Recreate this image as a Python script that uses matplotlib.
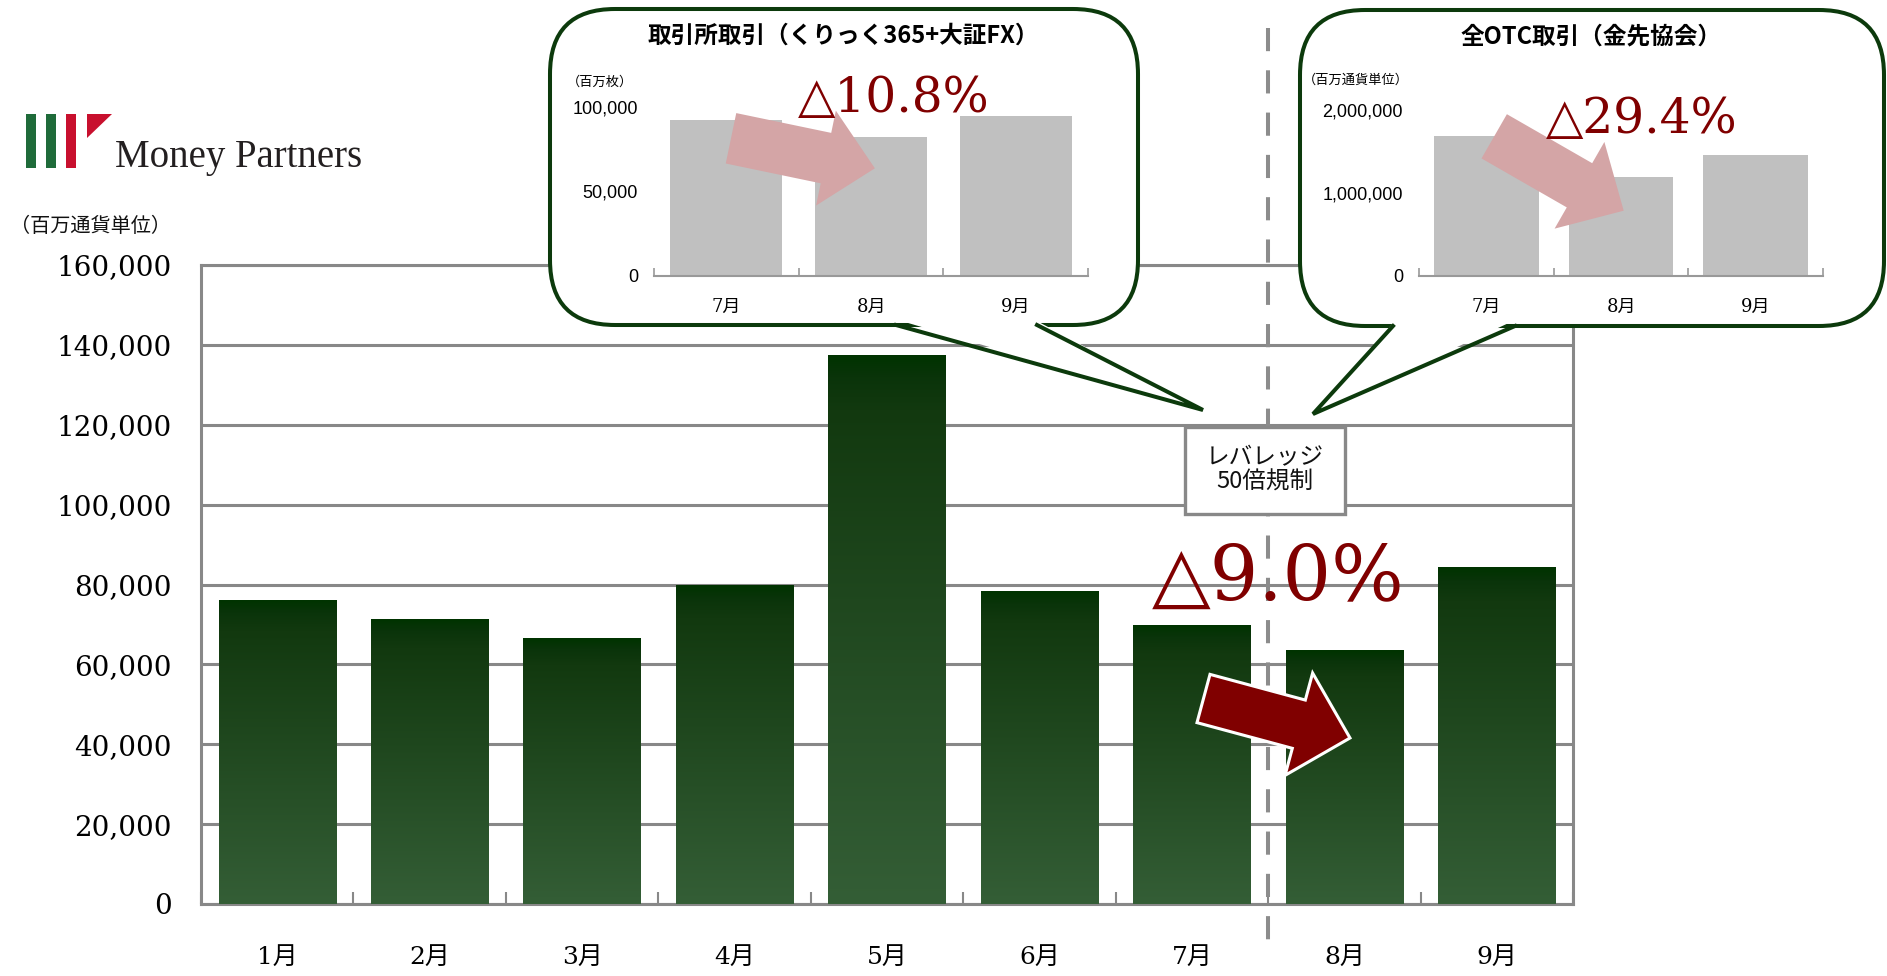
import numpy as np
import matplotlib
matplotlib.use("Agg")
import matplotlib.pyplot as plt
from matplotlib import transforms
from matplotlib.colors import LinearSegmentedColormap
from matplotlib.lines import Line2D
from matplotlib.patches import FancyBboxPatch, Polygon, Rectangle, FancyArrow

plt.rcParams["font.family"] = ["Noto Sans CJK JP", "DejaVu Sans"]

# monthly FX volume (millions of currency units)
months = ["1月", "2月", "3月", "4月", "5月", "6月", "7月", "8月", "9月"]
volume = [76000, 71250, 66500, 79750, 137500, 78250, 69800, 63500, 84300]
main_ticks = list(range(0, 160001, 20000))

# exchange-traded: click365 + Osaka FX (millions of lots)
exch_months = ["7月", "8月", "9月"]
exch_volume = [92300, 82300, 94700]
exch_ticks = [0, 50000, 100000]

# all OTC trading, financial futures association (millions of currency units)
otc_months = ["7月", "8月", "9月"]
otc_volume = [1685000, 1190000, 1458000]
otc_ticks = [0, 1000000, 2000000]

W, H = 1887, 976
SERIF_JP = ["DejaVu Serif", "Noto Sans CJK JP"]
GRID = "#888888"
CALLOUT = "#0c3a0c"
MAROON = "#800000"
PINK = "#d4a5a6"


def px_rect(x0, y0, x1, y1):
    # axes rectangle from pixel edges (origin top-left)
    return [x0 / W, 1 - y1 / H, (x1 - x0) / W, (y1 - y0) / H]


def overlay(z):
    o = fig.add_axes([0, 0, 1, 1], zorder=z)
    o.set_xlim(0, W)
    o.set_ylim(H, 0)
    o.axis("off")
    return o


fig = plt.figure(figsize=(W / 100, H / 100), dpi=100)

# --- main chart ---
ax = fig.add_axes(px_rect(201, 265, 1573, 904), zorder=1)
x = np.arange(len(months))
bars = ax.bar(x, volume, width=0.77, color="#2f5a31", zorder=2)

bar_cmap = LinearSegmentedColormap.from_list(
    "bar", [(0, "#345e36"), (0.9, "#12390f"), (0.96, "#0a340a"), (1, "#003300")])
grad = np.linspace(0, 1, 256).reshape(-1, 1)
for rect in bars:
    x0 = rect.get_x()
    im = ax.imshow(grad, cmap=bar_cmap, origin="lower", aspect="auto", zorder=3,
                   extent=(x0, x0 + rect.get_width(), 0, rect.get_height()))
    im.set_clip_path(rect)

ax.set_xlim(-0.5, len(months) - 0.5)
ax.set_ylim(0, main_ticks[-1])
ax.set_yticks(main_ticks)
ax.set_yticklabels([f"{t:,}" for t in main_ticks], fontfamily="DejaVu Serif", fontsize=20)
ax.tick_params(axis="y", length=0, pad=21)
ax.set_xticks(x)
ax.set_xticklabels(months, fontfamily=SERIF_JP, fontsize=18)
ax.tick_params(axis="x", length=0, pad=30)
ax.set_xticks(np.arange(-0.5, len(months)), minor=True)
ax.tick_params(axis="x", which="minor", direction="in", length=9, width=1.5, color=GRID)
ax.grid(axis="y", color=GRID, linewidth=2.2, zorder=1)
ax.set_axisbelow(True)
for s in ax.spines.values():
    s.set_color(GRID)
    s.set_linewidth(2.2)

back = overlay(2)
front = overlay(4)

# logo
for gx, col in [(26, "#1f6b3a"), (46, "#1f6b3a"), (66, "#c8102e")]:
    back.add_patch(Rectangle((gx, 114), 9.5, 54, color=col, lw=0))
back.add_patch(Polygon([(87, 114), (112, 114), (87, 138)], closed=True, color="#c8102e", lw=0))
back.text(115, 167, "Money Partners", fontfamily="Liberation Serif", fontsize=28,
          color="#231f20", va="baseline", ha="left")
back.text(10, 227, "（百万通貨単位）", fontsize=14.5, va="center", ha="left", color="#111111")


def callout(x0, y0, x1, y1, base_l, base_r, tip):
    back.add_patch(FancyBboxPatch((x0, y0), x1 - x0, y1 - y0,
                                  boxstyle="round,pad=0,rounding_size=65",
                                  fc="white", ec=CALLOUT, lw=2.9, zorder=2))
    back.add_patch(Polygon([(base_l + 2, y1 - 5), tip, (base_r - 2, y1 - 5)], closed=True,
                           fc="white", ec="none", zorder=3))
    back.add_line(Line2D([base_l, tip[0], base_r], [y1, tip[1], y1], color=CALLOUT,
                         lw=2.9, solid_joinstyle="miter", zorder=4))


callout(550, 9, 1138, 325, 896, 1037, (1203, 410))
callout(1300, 10, 1884, 326, 1393, 1515, (1313, 414))


def inset(rect, cats, vals, ticks):
    a = fig.add_axes(rect, zorder=3)
    a.patch.set_visible(False)
    xi = np.arange(len(cats))
    a.bar(xi, vals, width=0.775, color="#c0c0c0", zorder=2)
    a.set_xlim(-0.5, len(cats) - 0.5)
    a.set_ylim(0, ticks[-1])
    a.set_yticks(ticks)
    a.set_yticklabels([f"{t:,}" for t in ticks], fontfamily="Liberation Sans", fontsize=13)
    a.tick_params(axis="y", length=0, pad=11.5)
    a.set_xticks(xi)
    a.set_xticklabels(cats, fontfamily=SERIF_JP, fontsize=13)
    a.tick_params(axis="x", length=0, pad=16)
    a.set_xticks(np.arange(-0.5, len(cats)), minor=True)
    a.tick_params(axis="x", which="minor", direction="in", length=6, width=1.2, color="#999999")
    for s in ("left", "top", "right"):
        a.spines[s].set_visible(False)
    a.spines["bottom"].set_color("#999999")
    a.spines["bottom"].set_linewidth(1.5)
    return a


inset(px_rect(654, 107, 1088, 276), exch_months, exch_volume, exch_ticks)
inset(px_rect(1419, 110, 1823, 276), otc_months, otc_volume, otc_ticks)

back.text(843, 36, "取引所取引（くりっく365+大証FX）", fontsize=17, fontweight="bold",
          ha="center", va="center", zorder=5)
back.text(1591, 36, "全OTC取引（金先協会）", fontsize=17, fontweight="bold",
          ha="center", va="center", zorder=5)
back.text(567, 82, "（百万枚）", fontsize=9.5, ha="left", va="center", zorder=5)
back.text(1303, 80, "（百万通貨単位）", fontsize=9.5, ha="left", va="center", zorder=5)

# pink arrows and rates on the insets
front.add_patch(FancyArrow(731, 138.3, 143.9, 30, width=51.5, head_width=97, head_length=50,
                           length_includes_head=True, fc=PINK, ec="none"))
front.add_patch(FancyArrow(1494.2, 136.3, 129.5, 74.4, width=51, head_width=100, head_length=51,
                           length_includes_head=True, fc=PINK, ec="none"))
front.text(894, 112, "△10.8%", fontfamily=["DejaVu Serif", "DejaVu Sans"], fontsize=35,
           color=MAROON, ha="center", va="baseline")
front.text(1642, 133, "△29.4%", fontfamily=["DejaVu Serif", "DejaVu Sans"], fontsize=35,
           color=MAROON, ha="center", va="baseline")

# leverage-cap marker between July and August
trans = transforms.blended_transform_factory(ax.transData, front.transData)
front.add_line(Line2D([6.5, 6.5], [28, 957], transform=trans, color="#8c8c8c", lw=2.9,
                      linestyle=(0, (5.75, 4.75)), dash_capstyle="butt", zorder=1))
front.add_patch(Rectangle((1185, 427), 160, 87, fc="white", ec=GRID, lw=2.4, zorder=2))
front.text(1265, 470, "レバレッジ\n50倍規制", fontsize=17, ha="center", va="center",
           linespacing=1.12, color="#111111", zorder=3)

front.text(1278, 600, "△9.0%", fontfamily=["DejaVu Serif", "DejaVu Sans"], fontsize=55,
           color=MAROON, ha="center", va="baseline", zorder=3)
front.add_patch(FancyArrow(1203.5, 698.5, 146.5, 39.5, width=50, head_width=106, head_length=53,
                           length_includes_head=True, fc=MAROON, ec="white", lw=2.2, zorder=3))

fig.savefig("out.png", dpi=100)
